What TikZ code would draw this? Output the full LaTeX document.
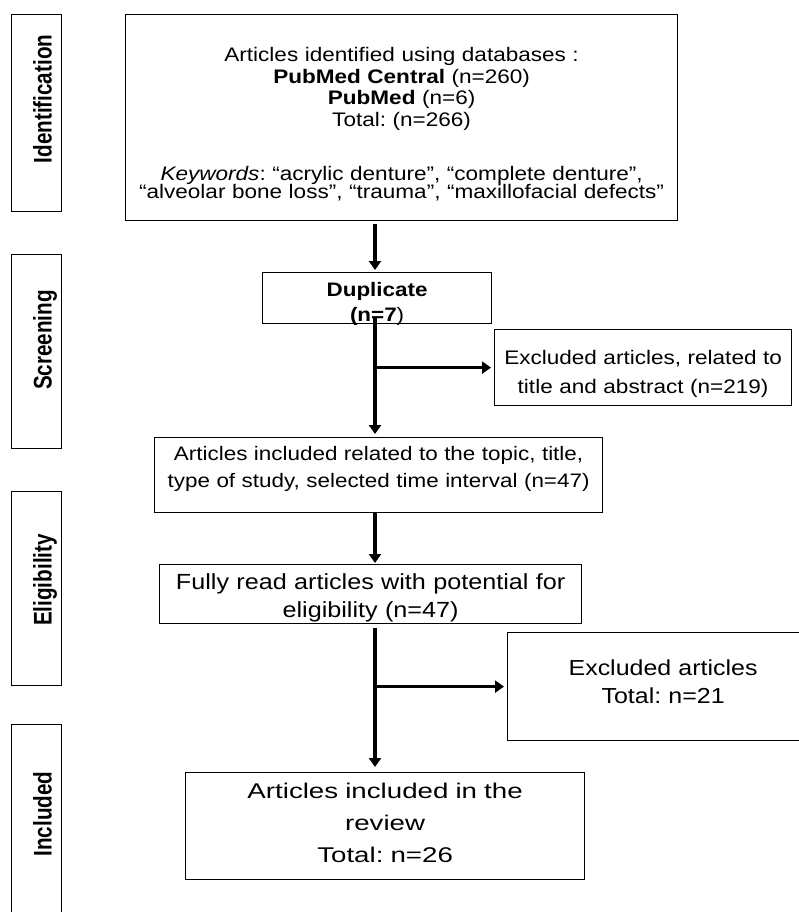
\documentclass[tikz,border=0pt]{standalone}
\usepackage{fontspec}
\setmainfont{Liberation Sans}[FakeStretch=1.15]
\newfontfamily\finalf{Liberation Sans}[FakeStretch=1.3]
\newfontfamily\sidef{Liberation Sans}[FakeStretch=0.81]
\usetikzlibrary{arrows.meta}
\frenchspacing
\begin{document}
\begin{tikzpicture}[x=1pt,y=-1pt,
  flowbox/.style={draw, line width=1.2pt, inner sep=0pt, align=center, anchor=north west},
  sidebox/.style={draw, line width=1.2pt, inner sep=0pt, anchor=north west, minimum width=50pt},
  sidelabel/.style={rotate=90, anchor=base, inner sep=0pt, font=\sidef\bfseries\fontsize{25.5}{26}\selectfont},
  conn/.style={line width=3.7pt},
  arr/.style={conn, -{Triangle[length=9pt,width=12pt]}}]
\useasboundingbox (0,0) rectangle (798,912);

% side boxes and labels
\node[sidebox, minimum height=197pt] (sid) at (11,14) {};
\node[sidebox, minimum height=194pt] (sscr) at (11,254) {};
\node[sidebox, minimum height=194pt] (seli) at (11,491) {};
\node[sidebox, minimum height=210pt] (sinc) at (11,724) {};
\node[sidelabel] (lid) at (51.5,99) {Identification};
\node[sidelabel] (lscr) at (51.5,340) {Screening};
\node[sidelabel] (leli) at (51.5,580) {Eligibility};
\node[sidelabel] (linc) at (51.5,814) {Included};

% flow boxes
\node[flowbox, text width=552pt, text height=47pt, text depth=159pt,
      font=\fontsize{19.6}{21.7}\selectfont] (box1) at (125,14)
  {Articles identified using databases :\\
   \textbf{PubMed Central} (n=260)\\
   \textbf{PubMed} (n=6)\\
   Total: (n=266)\\[31.8pt]
   \textit{Keywords}: “acrylic denture”, “complete denture”,\\[-3.2pt]
   “alveolar bone loss”, “trauma”, “maxillofacial defects”};

\node[flowbox, text width=229pt, text height=24pt, text depth=27pt,
      font=\fontsize{19.5}{24.7}\selectfont] (dup) at (262,272)
  {\textbf{Duplicate}\\\textbf{(n=7})};

\node[flowbox, text width=297pt, text height=35pt, text depth=41pt,
      font=\fontsize{19.6}{28.7}\selectfont] (excl1) at (494,329)
  {Excluded articles, related to\\title and abstract (n=219)};

\node[flowbox, text width=448pt, text height=23pt, text depth=52pt,
      font=\fontsize{19.5}{26.5}\selectfont] (box3) at (154,437)
  {Articles included related to the topic, title,\\type of study, selected time interval (n=47)};

\node[flowbox, text width=422pt, text height=25pt, text depth=34pt,
      font=\fontsize{21.9}{28}\selectfont] (box4) at (159,564)
  {Fully read articles with potential for\\eligibility (n=47)};

\node[flowbox, text width=311pt, text height=43pt, text depth=65pt,
      font=\fontsize{21.7}{27.7}\selectfont] (excl2) at (507,632)
  {Excluded articles\\Total: n=21};

\node[flowbox, text width=399pt, text height=26.3pt, text depth=80.7pt,
      font=\finalf\fontsize{21.3}{31.7}\selectfont] (final) at (185,772)
  {Articles included in the\\review\\Total: n=26};

% connectors
\coordinate (spine) at (375,0);
\draw[arr] ([yshift=-3pt]box1.south -| spine) -- ([yshift=2pt]dup.north -| spine);
\draw[arr] ([yshift=7pt]dup.south -| spine) -- ([yshift=3pt]box3.north -| spine);
\draw[arr] (spine |- excl1.west) -- ([xshift=-3pt]excl1.west);
\draw[arr] (box3.south -| spine) -- ([yshift=1pt]box4.north -| spine);
\draw[arr] ([yshift=-4pt]box4.south -| spine) -- ([yshift=5pt]final.north -| spine);
\draw[arr] (spine |- excl2.west) -- ([xshift=-3pt]excl2.west);
\end{tikzpicture}
\end{document}
